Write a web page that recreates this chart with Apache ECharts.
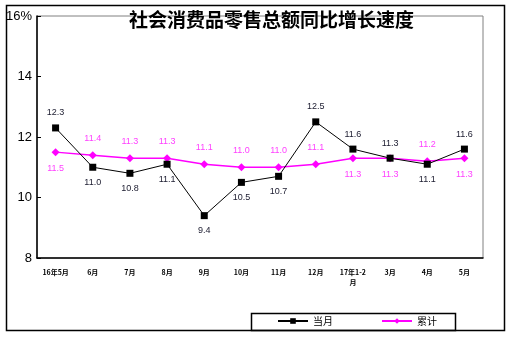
<!DOCTYPE html>
<html><head><meta charset="utf-8">
<script src="https://cdn.jsdelivr.net/npm/echarts@6/dist/echarts.min.js"></script>
<style>html,body{margin:0;padding:0;background:#fff}#c{width:513px;height:337px}</style>
</head><body><div id="c"></div>
<script>
const categories = ['16年5月','6月','7月','8月','9月','10月','11月','12月','17年1-2\n月','3月','4月','5月'];
const monthly = [12.3, 11.0, 10.8, 11.1, 9.4, 10.5, 10.7, 12.5, 11.6, 11.3, 11.1, 11.6];
const cumulative = [11.5, 11.4, 11.3, 11.3, 11.1, 11.0, 11.0, 11.1, 11.3, 11.3, 11.2, 11.3];
const yTicks = [8, 10, 12, 14, 16];
const monthlyLabelPos = ['top','bottom','bottom','bottom','bottom','bottom','bottom','top','top','top','bottom','top'];
const cumLabelPos = ['bottom','top','top','top','top','top','top','top','bottom','bottom','top','bottom'];

const chart = echarts.init(document.getElementById('c'), null, {renderer:'canvas'});
const FONT = 'Liberation Sans, Arial, sans-serif';
chart.setOption({
  animation:false,
  textStyle:{fontFamily:FONT},
  title:{text:'社会消费品零售总额同比增长速度', left:124, top:5,
    textStyle:{fontSize:19, fontWeight:'bold', color:'#000', fontFamily:'Noto Sans CJK SC'}},
  graphic:[
    {type:'rect', shape:{x:6.5,y:5.5,width:498,height:325}, style:{fill:null, stroke:'#000', lineWidth:1.5}, z:-1},
    {type:'rect', shape:{x:251.5,y:313.5,width:204,height:17}, style:{fill:null, stroke:'#000', lineWidth:1.5}}
  ],
  legend:{left:272, top:311, itemGap:48, itemWidth:30, itemHeight:7,
    textStyle:{fontSize:10, fontFamily:'Noto Sans CJK SC', color:'#000'},
    data:['当月','累计']},
  grid:{left:37, top:16, right:30, bottom:79, show:true, borderColor:'#808080', borderWidth:1},
  xAxis:{type:'category', data:categories, boundaryGap:true,
    axisLine:{lineStyle:{color:'#000', width:1.5}},
    axisTick:{inside:true, length:3, lineStyle:{color:'#000'}},
    axisLabel:{fontSize:7, fontWeight:'bold', color:'#000', margin:9, interval:0, lineHeight:10, fontFamily:'Noto Sans CJK SC'}},
  yAxis:{type:'value', min:yTicks[0], max:yTicks[yTicks.length-1], interval:2,
    axisLine:{show:true, lineStyle:{color:'#000', width:1.5}},
    axisTick:{show:true, inside:true, length:4, lineStyle:{color:'#000'}},
    splitLine:{show:false},
    axisLabel:{fontSize:13, color:'#000', margin:5,
      formatter:v => v === yTicks[yTicks.length-1] ? v + '%' : String(v)}},
  series:[
    {name:'当月', type:'line', data:monthly.map((v,i)=>({value:v, label:{position:monthlyLabelPos[i]}})),
      symbol:'rect', symbolSize:7, itemStyle:{color:'#000'}, lineStyle:{color:'#000', width:1},
      label:{show:true, fontSize:9, color:'#1a1a2e', distance:7, formatter:p=>p.value.toFixed(1)}, z:3},
    {name:'累计', type:'line', data:cumulative.map((v,i)=>({value:v, label:{position:cumLabelPos[i]}})),
      symbol:'diamond', symbolSize:8, itemStyle:{color:'#ff00ff'}, lineStyle:{color:'#ff00ff', width:1.5},
      label:{show:true, fontSize:9, color:'#ff40ff', distance:8, formatter:p=>p.value.toFixed(1)}, z:2}
  ]
});
</script></body></html>
